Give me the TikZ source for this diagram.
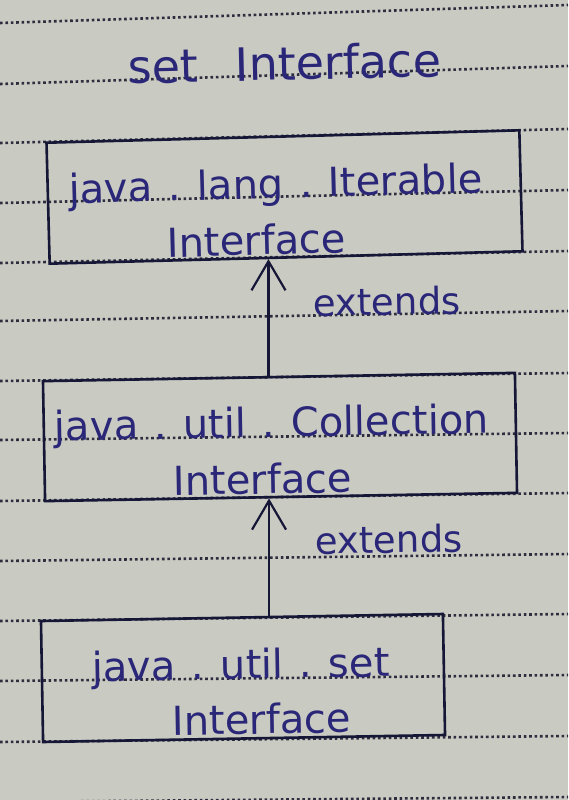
\documentclass[tikz,border=0pt]{standalone}
\usepackage{fontspec}
\setmainfont{DejaVu Sans}
\usetikzlibrary{arrows.meta,calc}
\definecolor{paper}{RGB}{201,202,194}
\definecolor{rule}{RGB}{45,45,62}
\definecolor{boxink}{RGB}{22,22,55}
\definecolor{ink}{RGB}{42,38,120}
\newcommand\jdot{\kern0.4em.\kern0.4em}
\tikzset{
  paperrule/.style={rule, line width=2.6pt, dash pattern=on 2.6pt off 2.8pt},
  ifbox/.style={draw=boxink, line width=2.6pt, inner sep=0pt, rectangle},
  hand/.style={ink, inner sep=0pt, anchor=base, font=\fontsize{40}{48}\selectfont},
  label/.style={ink, inner sep=0pt, anchor=base, font=\fontsize{37}{44}\selectfont},
  arr/.style={boxink, line width=2.2pt, -{Straight Barb[length=29pt,width=34pt,line width=2.2pt]}}
}
\begin{document}
\begin{tikzpicture}[x=1pt,y=-1pt]
\fill[paper] (0,0) rectangle (568,800);
\useasboundingbox (0,0) rectangle (568,800);
% ruled paper
\foreach \yl/\yr in {23/5,84/66,143/129,203/190,263/251,321/311,381/373,440/433,501/493,561/554,621/614,681/675,742/736,802/797}
  \draw[paperrule] (0,\yl) -- (568,\yr);
% title
\node[hand, font=\fontsize{46}{54}\selectfont, rotate=1.3] (title) at (285,80) {set\hspace{37pt}Interface};
% boxes
\node[ifbox, minimum width=473pt, minimum height=121pt, rotate=1.5] (b1) at (284.5,197) {};
\node[ifbox, minimum width=472pt, minimum height=120pt, rotate=1.0] (b2) at (280,437) {};
\node[ifbox, minimum width=402pt, minimum height=121pt, rotate=1.0] (b3) at (243,678) {};
% box texts
\node[hand, rotate=1.5] (t1a) at (276,198) {java\jdot lang\jdot Iterable};
\node[hand, rotate=1.5] (t1b) at (257,255) {Interface};
\node[hand, rotate=1.0] (t2a) at (272,437) {java\jdot util\jdot Collection};
\node[hand, rotate=1.0] (t2b) at (263,494) {Interface};
\node[hand, rotate=1.0] (t3a) at (241,679) {java\jdot util\jdot set};
\node[hand, rotate=1.0] (t3b) at (262,734) {Interface};
% connectors
\coordinate (a1s) at ($(b2.north west)!0.478!(b2.north east)$);
\coordinate (a1e) at ($(b1.south west)!0.472!(b1.south east)$);
\coordinate (a2s) at ($(b3.north west)!0.567!(b3.north east)$);
\coordinate (a2e) at ($(b2.south west)!0.481!(b2.south east)$);
\draw[arr] (a1s) -- (a1s |- a1e);
\draw[arr] (a2s) -- (a2s |- a2e);
\node[label, rotate=1.0] (e1) at (387,315) {extends};
\node[label, rotate=1.0] (e2) at (389,553) {extends};
\end{tikzpicture}
\end{document}
